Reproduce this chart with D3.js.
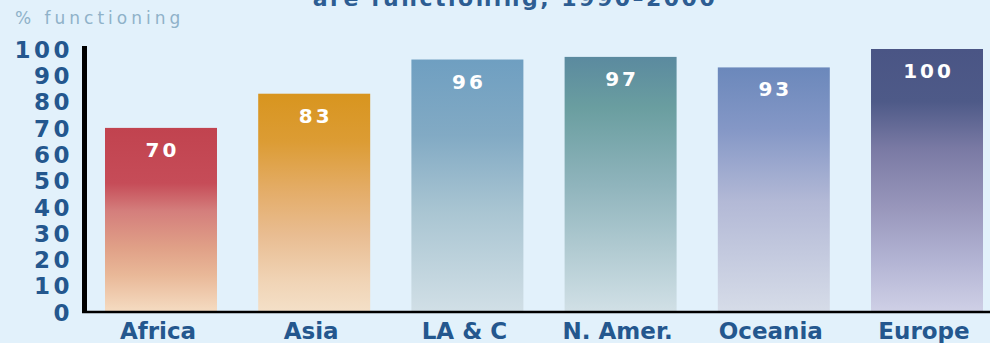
<!DOCTYPE html>
<html>
<head>
<meta charset="utf-8">
<script src="https://cdn.jsdelivr.net/npm/d3@7"></script>
<style>
  html, body { margin: 0; padding: 0; background: #e2f1fb; }
  svg { display: block; }
</style>
</head>
<body>
<script>

var regions = ["Africa", "Asia", "LA & C", "N. Amer.", "Oceania", "Europe"];
var pctFunctioning = [70, 83, 96, 97, 93, 100];
var yTicks = [0, 10, 20, 30, 40, 50, 60, 70, 80, 90, 100];

// top-to-bottom gradient stops for each bar
var barStops = [
  [["0%", "#c1434f"], ["30%", "#c64c58"], ["45%", "#d47e7c"], ["65%", "#e0a087"], ["80%", "#e9b898"], ["100%", "#f5dcc2"]],
  [["0%", "#d8951f"], ["22%", "#dc9c34"], ["45%", "#e4ad69"], ["65%", "#e9bd92"], ["85%", "#f0d3b4"], ["100%", "#f4e0c8"]],
  [["0%", "#6f9fc1"], ["30%", "#82aac4"], ["60%", "#a9c5d2"], ["100%", "#d1dfe6"]],
  [["0%", "#5b8a9f"], ["20%", "#6a9ea0"], ["50%", "#8fb4bc"], ["100%", "#d1e0e6"]],
  [["0%", "#6b88bb"], ["25%", "#8497c6"], ["55%", "#b3b9d6"], ["100%", "#d6dce8"]],
  [["0%", "#4a5585"], ["20%", "#4e5a88"], ["38%", "#7a7aa4"], ["60%", "#9896bb"], ["80%", "#b2b3d3"], ["100%", "#cfd0e6"]]
];

var width = 990, height = 343;

var svg = d3.select("body").append("svg")
  .attr("width", width)
  .attr("height", height);

svg.append("rect")
  .attr("width", width)
  .attr("height", height)
  .attr("fill", "#e2f1fb");

var x = d3.scaleBand()
  .domain(regions)
  .range([105, 983])
  .paddingInner(0.269)
  .paddingOuter(0);

var y = d3.scaleLinear()
  .domain([0, 100])
  .range([312, 49]);

var defs = svg.append("defs");
barStops.forEach(function(stops, i) {
  var g = defs.append("linearGradient")
    .attr("id", "grad" + i)
    .attr("x1", 0).attr("y1", 0)
    .attr("x2", 0).attr("y2", 1);
  stops.forEach(function(s) {
    g.append("stop").attr("offset", s[0]).attr("stop-color", s[1]);
  });
});

// title, mostly cropped off the top as in the source
svg.append("text")
  .attr("x", 515)
  .attr("y", 6)
  .attr("text-anchor", "middle")
  .style("font-family", "DejaVu Sans")
  .style("font-weight", "bold")
  .style("font-size", "22px")
  .style("letter-spacing", "2.5px")
  .style("fill", "#2d5d92")
  .text("are functioning, 1990\u20132000");

svg.append("text")
  .attr("x", 15)
  .attr("y", 24)
  .style("font-family", "DejaVu Sans")
  .style("font-size", "17px")
  .style("letter-spacing", "4px")
  .style("fill", "#8fb2c9")
  .text("% functioning");

var data = regions.map(function(r, i) {
  return { region: r, value: pctFunctioning[i], idx: i };
});

svg.selectAll("rect.bar")
  .data(data)
  .enter()
  .append("rect")
  .attr("class", "bar")
  .attr("x", function(d) { return x(d.region); })
  .attr("y", function(d) { return y(d.value); })
  .attr("width", x.bandwidth())
  .attr("height", function(d) { return y(0) - y(d.value); })
  .attr("fill", function(d) { return "url(#grad" + d.idx + ")"; });

svg.selectAll("text.val")
  .data(data)
  .enter()
  .append("text")
  .attr("class", "val")
  .attr("x", function(d) { return x(d.region) + x.bandwidth() / 2 + 1.5; })
  .attr("y", function(d) { return y(d.value) + 29; })
  .attr("text-anchor", "middle")
  .style("font-family", "DejaVu Sans")
  .style("font-weight", "bold")
  .style("font-size", "20px")
  .style("letter-spacing", "3px")
  .style("fill", "#ffffff")
  .text(function(d) { return d.value; });

// y axis labels
var yAxis = d3.axisLeft(y)
  .tickValues(yTicks)
  .tickSize(0)
  .tickPadding(0);

var yg = svg.append("g")
  .attr("transform", "translate(73,0)")
  .call(yAxis);
yg.select(".domain").remove();
yg.selectAll("text")
  .attr("dy", "0.36em")
  .style("font-family", "DejaVu Sans")
  .style("font-weight", "bold")
  .style("font-size", "23px")
  .style("letter-spacing", "3.5px")
  .style("fill", "#24578e");

// x axis labels
var xAxis = d3.axisBottom(x).tickSize(0).tickPadding(0);
var xg = svg.append("g")
  .attr("transform", "translate(-3,339)")
  .call(xAxis);
xg.select(".domain").remove();
xg.selectAll("text")
  .attr("dy", 0)
  .style("font-family", "DejaVu Sans")
  .style("font-weight", "bold")
  .style("font-size", "23px")
  .style("fill", "#24578e");

// axis lines
svg.append("rect")
  .attr("x", 82)
  .attr("y", 46)
  .attr("width", 5)
  .attr("height", y(0) - 46 + 1)
  .attr("fill", "#000");

svg.append("line")
  .attr("x1", 82)
  .attr("x2", width)
  .attr("y1", y(0))
  .attr("y2", y(0))
  .attr("stroke", "#000")
  .attr("stroke-width", 2.5);

</script>
</body>
</html>
